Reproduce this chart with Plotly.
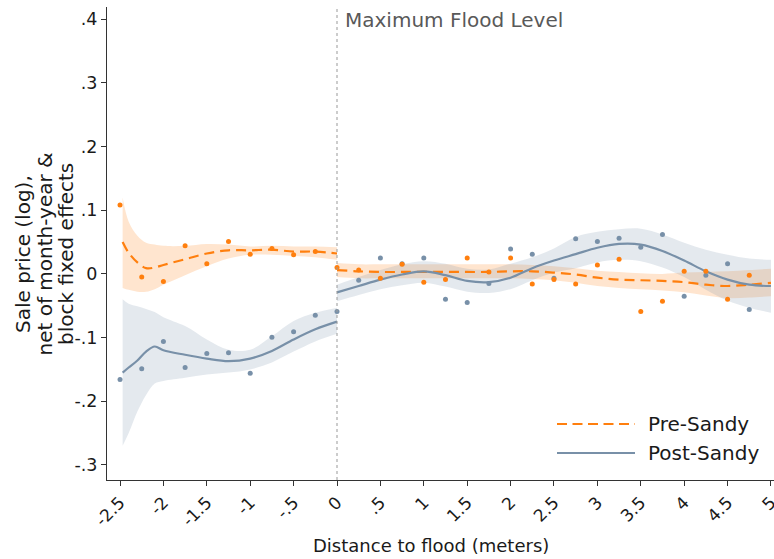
import plotly.graph_objects as go

# ---- binned means (every 0.25 m) ----
bin_x = [-2.5, -2.25, -2.0, -1.75, -1.5, -1.25, -1.0, -0.75, -0.5, -0.25, 0.0,
         0.25, 0.5, 0.75, 1.0, 1.25, 1.5, 1.75, 2.0, 2.25, 2.5, 2.75, 3.0,
         3.25, 3.5, 3.75, 4.0, 4.25, 4.5, 4.75]
pre_bins = [0.108, -0.005, -0.012, 0.044, 0.016, 0.051, 0.031, 0.040, 0.030, 0.035, 0.010,
            0.006, -0.007, 0.015, -0.013, -0.009, 0.025, 0.003, 0.025, -0.016, -0.009,
            -0.016, 0.014, 0.023, -0.059, -0.043, 0.004, 0.004, -0.040, -0.002]
post_bins = [-0.166, -0.149, -0.106, -0.147, -0.125, -0.124, -0.156, -0.0995, -0.091, -0.065, -0.059,
             -0.010, 0.025, 0.016, 0.025, -0.040, -0.045, -0.015, 0.039, 0.031, -0.007,
             0.055, 0.051, 0.056, 0.042, 0.062, -0.035, -0.002, 0.016, -0.056]

# ---- local fits and 95% bands, below the flood level ----
left_x = [-2.47, -2.4, -2.3, -2.2, -2.1, -2.0, -1.75, -1.5, -1.25, -1.0, -0.75, -0.5, -0.25, 0.0]
pre_fit_left = [0.050, 0.033, 0.018, 0.009, 0.010, 0.014, 0.023, 0.032, 0.037, 0.037, 0.038, 0.035, 0.035, 0.032]
pre_hi_left = [0.120, 0.082, 0.060, 0.049, 0.046, 0.044, 0.044, 0.047, 0.046, 0.043, 0.044, 0.043, 0.043, 0.042]
pre_lo_left = [-0.022, -0.025, -0.028, -0.028, -0.024, -0.017, -0.002, 0.012, 0.024, 0.030, 0.030, 0.028, 0.026, 0.022]
post_fit_left = [-0.155, -0.147, -0.136, -0.122, -0.114, -0.120, -0.127, -0.133, -0.137, -0.133, -0.121, -0.103, -0.087, -0.075]
post_hi_left = [-0.040, -0.047, -0.051, -0.055, -0.060, -0.068, -0.082, -0.103, -0.119, -0.119, -0.098, -0.074, -0.061, -0.053]
post_lo_left = [-0.270, -0.250, -0.216, -0.190, -0.172, -0.168, -0.163, -0.158, -0.155, -0.150, -0.139, -0.122, -0.106, -0.094]

# ---- local fits and 95% bands, above the flood level ----
right_x = [0.0, 0.25, 0.5, 0.75, 1.0, 1.25, 1.5, 1.75, 2.0, 2.25, 2.5,
           2.75, 3.0, 3.25, 3.5, 3.75, 4.0, 4.25, 4.5, 4.75, 5.0]
pre_fit_right = [0.006, 0.004, 0.003, 0.003, 0.003, 0.003, 0.003, 0.003, 0.004, 0.004, 0.002,
                 -0.001, -0.006, -0.009, -0.010, -0.011, -0.013, -0.017, -0.019, -0.017, -0.014]
pre_hi_right = [0.017, 0.015, 0.015, 0.015, 0.015, 0.015, 0.015, 0.015, 0.015, 0.014, 0.012,
                0.009, 0.005, 0.003, 0.001, 0.000, 0.002, 0.003, 0.004, 0.006, 0.008]
pre_lo_right = [-0.005, -0.007, -0.007, -0.007, -0.007, -0.007, -0.007, -0.007, -0.007, -0.008, -0.010,
                -0.014, -0.019, -0.022, -0.024, -0.026, -0.029, -0.034, -0.038, -0.037, -0.035]
post_fit_right = [-0.029, -0.019, -0.009, -0.001, 0.004, -0.002, -0.011, -0.013, -0.006, 0.009, 0.021,
                  0.031, 0.041, 0.047, 0.046, 0.036, 0.021, 0.004, -0.009, -0.017, -0.019]
post_hi_right = [-0.017, -0.005, 0.006, 0.015, 0.020, 0.016, 0.008, 0.007, 0.016, 0.026, 0.040,
                 0.058, 0.066, 0.070, 0.071, 0.062, 0.049, 0.038, 0.030, 0.024, 0.022]
post_lo_right = [-0.043, -0.033, -0.024, -0.018, -0.014, -0.020, -0.028, -0.030, -0.024, -0.010, 0.002,
                 0.009, 0.018, 0.022, 0.020, 0.010, -0.005, -0.025, -0.042, -0.053, -0.061]

x_ticks = [-2.5, -2, -1.5, -1, -0.5, 0, 0.5, 1, 1.5, 2, 2.5, 3, 3.5, 4, 4.5, 5]
x_tick_text = ["-2.5", "-2", "-1.5", "-1", "-.5", "0", ".5", "1", "1.5", "2", "2.5",
               "3", "3.5", "4", "4.5", "5"]
y_ticks = [-0.3, -0.2, -0.1, 0, 0.1, 0.2, 0.3, 0.4]
y_tick_text = ["-.3", "-.2", "-.1", "0", ".1", ".2", ".3", ".4"]
y_title_lines = ["Sale price (log),", "net of month-year &", "block fixed effects"]

ORANGE = "#ff7f0e"
SLATE = "#7890a8"
ORANGE_FILL = "rgba(255,127,14,0.2)"
SLATE_FILL = "rgba(120,144,168,0.2)"
FONT = "DejaVu Sans"
INK = "#1a1a1a"

fig = go.Figure()


def add_band(x, lo, hi, fill):
    fig.add_trace(go.Scatter(x=x, y=hi, mode="lines", line=dict(width=0, shape="spline"),
                             hoverinfo="skip", showlegend=False))
    fig.add_trace(go.Scatter(x=x, y=lo, mode="lines", line=dict(width=0, shape="spline"),
                             fill="tonexty", fillcolor=fill, hoverinfo="skip", showlegend=False))


add_band(left_x, pre_lo_left, pre_hi_left, ORANGE_FILL)
add_band(right_x, pre_lo_right, pre_hi_right, ORANGE_FILL)
add_band(left_x, post_lo_left, post_hi_left, SLATE_FILL)
add_band(right_x, post_lo_right, post_hi_right, SLATE_FILL)

for xs, ys in [(left_x, pre_fit_left), (right_x, pre_fit_right)]:
    fig.add_trace(go.Scatter(x=xs, y=ys, mode="lines", showlegend=False,
                             line=dict(color=ORANGE, width=2.2, dash="10px,6px", shape="spline")))
for xs, ys in [(left_x, post_fit_left), (right_x, post_fit_right)]:
    fig.add_trace(go.Scatter(x=xs, y=ys, mode="lines", showlegend=False,
                             line=dict(color=SLATE, width=2.2, shape="spline")))

fig.add_trace(go.Scatter(x=bin_x, y=post_bins, mode="markers", showlegend=False,
                         marker=dict(color=SLATE, size=5)))
fig.add_trace(go.Scatter(x=bin_x, y=pre_bins, mode="markers", showlegend=False,
                         marker=dict(color=ORANGE, size=5)))

# flood level marker
fig.add_shape(type="line", xref="x", yref="paper", x0=0, x1=0, y0=0, y1=1,
              line=dict(color="#999999", width=1, dash="dot"))
fig.add_annotation(xref="x", yref="paper", x=0.07, y=0.9725, text="Maximum Flood Level",
                   showarrow=False, xanchor="left", yanchor="middle",
                   font=dict(family=FONT, size=20, color="#595959"))

# pixel helpers for paper-space placement
PW, PH, ML, MB = 667, 473, 107, 79
H = 559


def px_x(p):
    return (p - ML) / PW


def px_y(p):
    return (H - MB - p) / PH


# legend
legend_rows = [("Pre-Sandy", ORANGE, "10px,5.5px", 424), ("Post-Sandy", SLATE, "solid", 453)]
for label, color, dash, yy in legend_rows:
    fig.add_shape(type="line", xref="paper", yref="paper", x0=px_x(557), x1=px_x(635),
                  y0=px_y(yy), y1=px_y(yy), line=dict(color=color, width=2.2, dash=dash))
    fig.add_annotation(xref="paper", yref="paper", x=px_x(646), y=px_y(yy), text=label,
                       showarrow=False, xanchor="left", yanchor="middle",
                       font=dict(family=FONT, size=20, color=INK))

# axis titles
fig.add_annotation(xref="paper", yref="paper", x=px_x(431), y=px_y(545),
                   text="Distance to flood (meters)", showarrow=False,
                   xanchor="center", yanchor="middle",
                   font=dict(family=FONT, size=18, color=INK))
for line_text, cx in zip(y_title_lines, [23, 44.5, 66]):
    fig.add_annotation(xref="paper", yref="paper", x=px_x(cx), y=px_y(254),
                       text=line_text, showarrow=False, textangle=-90,
                       xanchor="center", yanchor="middle",
                       font=dict(family=FONT, size=20, color=INK))

fig.update_layout(
    width=774, height=559,
    margin=dict(l=ML, r=0, t=7, b=MB, autoexpand=False),
    plot_bgcolor="white", paper_bgcolor="white",
    showlegend=False,
    font=dict(family=FONT, size=17, color=INK),
    xaxis=dict(range=[-2.65, 5.035], tickvals=x_ticks, ticktext=x_tick_text,
               tickangle=-45, ticks="outside", ticklen=5, tickcolor="#333333",
               showline=True, linecolor="#333333", linewidth=1, showgrid=False,
               zeroline=False, tickfont=dict(size=17), ticklabeloverflow="allow",
               automargin=False),
    yaxis=dict(range=[-0.3236, 0.419], tickvals=y_ticks, ticktext=y_tick_text,
               ticks="outside", ticklen=5, tickcolor="#333333",
               showline=True, linecolor="#333333", linewidth=1, showgrid=False,
               zeroline=False, tickfont=dict(size=17.5), automargin=False),
)

fig.write_html("out.html")
